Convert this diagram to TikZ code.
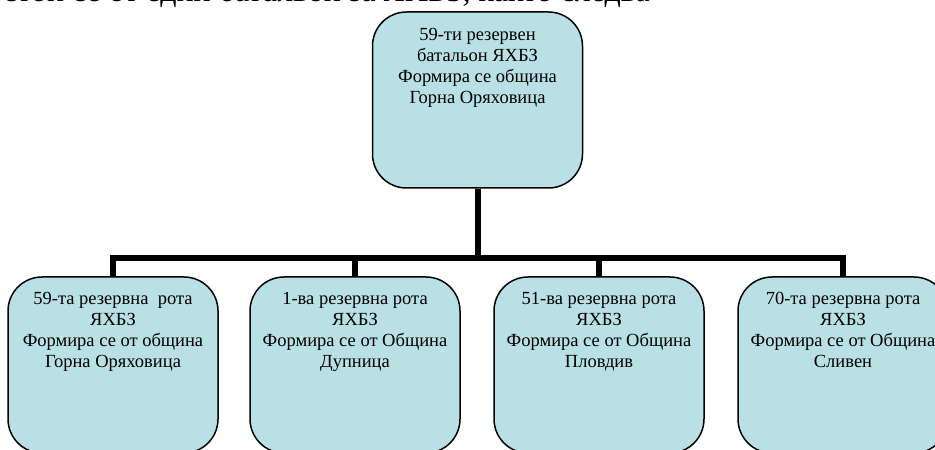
\documentclass[tikz,border=0pt]{standalone}
\usepackage{fontspec}
\setmainfont{Liberation Serif}
\definecolor{boxfill}{RGB}{185,224,228}
\begin{document}
\begin{tikzpicture}[x=1pt,y=1pt,
  unit/.style={draw, line width=1.5pt, fill=boxfill, rounded corners=34pt,
    minimum width=210pt, minimum height=176pt, inner sep=0pt},
  bar/.style={line width=6pt},
  txt/.style={inner sep=0pt, anchor=north, align=center, font=\fontsize{18.5}{21}\selectfont}]
\useasboundingbox (0,0) rectangle (935,450);
\clip (0,0) rectangle (935,450);
\node[anchor=base east, inner sep=0pt, font=\fontsize{32}{38}\selectfont] (intro) at (650,448){Състои се от един батальон за ЯХБЗ, както следва};
\node[unit] (bat0) at (477.5,350){};
\node[txt] (bat0t) at (477.5,422){59-ти резервен\\батальон ЯХБЗ\\Формира се община\\Горна Оряховица};
\node[unit] (rota1) at (113,85){};
\node[txt] (rota1t) at (113,158){59-та резервна\ \ рота\\ЯХБЗ\\Формира се от община\\Горна Оряховица};
\node[unit] (rota2) at (355,85){};
\node[txt] (rota2t) at (355,158){1-ва резервна рота\\ЯХБЗ\\Формира се от Община\\Дупница};
\node[unit] (rota3) at (599,85){};
\node[txt] (rota3t) at (599,158){51-ва резервна рота\\ЯХБЗ\\Формира се от Община\\Пловдив};
\node[unit] (rota4) at (843,85){};
\node[txt] (rota4t) at (843,158){70-та резервна рота\\ЯХБЗ\\Формира се от Община\\Сливен};
\coordinate (hub) at (477.5,192);
\draw[bar] (bat0) -- (hub);
\foreach \i in {1,...,4}
  \draw[bar] (hub) -| (rota\i.north);
\end{tikzpicture}
\end{document}
